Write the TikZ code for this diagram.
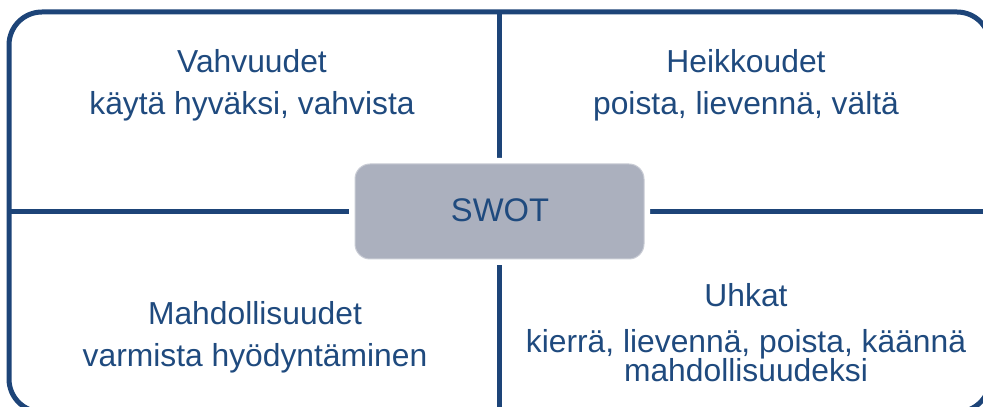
\documentclass[tikz,border=0pt]{standalone}
\usepackage{fontspec}
\setmainfont{Liberation Sans}
\definecolor{frameblue}{HTML}{1D4478}
\definecolor{textblue}{HTML}{1F4A7E}
\definecolor{boxgrey}{HTML}{ABB0BE}
\definecolor{boxedge}{HTML}{C9CCD5}
\tikzset{
  frameline/.style={draw=frameblue, line width=5pt},
  quadtext/.style={text=textblue, font=\fontsize{31.8}{34}\selectfont, anchor=base, inner sep=0pt},
  centerbox/.style={fill=boxgrey, draw=boxedge, line width=1pt, rounded corners=15pt,
    preaction={draw=white, line width=12pt, rounded corners=15pt}},
}
\begin{document}
\begin{tikzpicture}[x=1pt,y=1pt]
  \useasboundingbox (0,0) rectangle (983,407);
  \clip (0,0) rectangle (983,407);
  % outer frame, running past the lower and right edges
  \draw[frameline, rounded corners=33pt] (9,-5) rectangle (990,395);
  % quadrant dividers
  \coordinate (vtop) at (499.5,395);
  \coordinate (vbot) at (499.5,-5);
  \coordinate (hleft) at (9,195);
  \coordinate (hright) at (990,195);
  \draw[frameline] (vtop) -- (vbot);
  \draw[frameline] (hleft) -- (hright);
  % central box
  \path[centerbox] (355,148) rectangle (644,243);
  \node[text=textblue, font=\fontsize{32.7}{35}\selectfont, anchor=base, inner sep=0pt] (swot) at (500,185) {SWOT};
  % strengths
  \node[quadtext] (s1) at (252,334) {Vahvuudet};
  \node[quadtext] (s2) at (252,292) {käytä hyväksi, vahvista};
  % weaknesses
  \node[quadtext] (w1) at (746,334) {Heikkoudet};
  \node[quadtext] (w2) at (746,292) {poista, lievennä, vältä};
  % opportunities
  \node[quadtext] (o1) at (255,82) {Mahdollisuudet};
  \node[quadtext] (o2) at (255,40) {varmista hyödyntäminen};
  % threats
  \node[quadtext] (t1) at (746,100) {Uhkat};
  \node[quadtext] (t2) at (746,54) {kierrä, lievennä, poista, käännä};
  \node[quadtext] (t3) at (746,25) {mahdollisuudeksi};
\end{tikzpicture}
\end{document}
